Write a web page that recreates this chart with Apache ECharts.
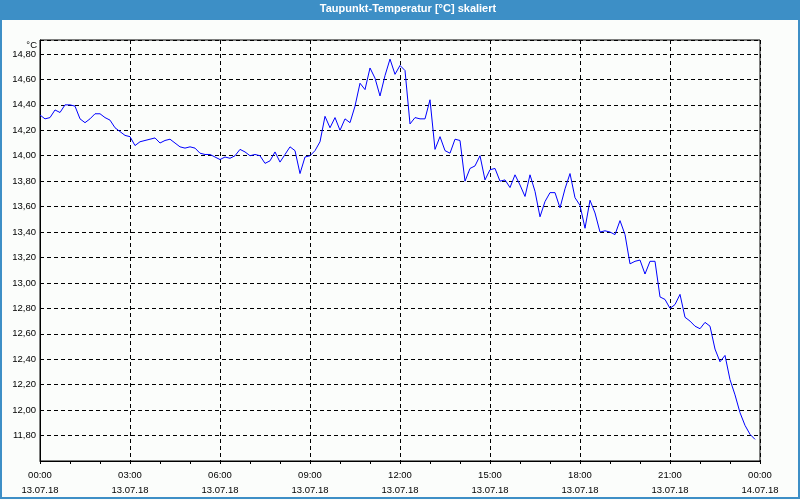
<!DOCTYPE html>
<html>
<head>
<meta charset="utf-8">
<script src="https://cdn.jsdelivr.net/npm/echarts@6/dist/echarts.min.js"></script>
<style>
html,body{margin:0;padding:0;background:#fbfdfb;}
#chart{width:800px;height:500px;}
</style>
</head>
<body>
<div id="chart"></div>
<script>
// Title and axis texts
var chartTitle = 'Taupunkt-Temperatur [°C] skaliert';
var yUnit = '°C';
var startDate = '13.07.18';
var endDate = '14.07.18';

// Time categories: 10-minute steps from 13.07.18 00:00 to 14.07.18 00:00
var categories = [];
for (var i = 0; i <= 144; i++) {
  var h = Math.floor(i / 6) % 24, m = (i % 6) * 10;
  var d = i < 144 ? startDate : endDate;
  categories.push(d + ' ' + (h < 10 ? '0' : '') + h + ':' + (m < 10 ? '0' : '') + m);
}

// Dew point values (°C), one per 10 minutes
var values = [
  14.32, 14.29, 14.30, 14.36, 14.34, 14.40,  // 00:00
  14.40, 14.39, 14.29, 14.26, 14.29, 14.33,  // 01:00
  14.33, 14.30, 14.28, 14.22, 14.19, 14.16,  // 02:00
  14.15, 14.08, 14.11, 14.12, 14.13, 14.14,  // 03:00
  14.10, 14.12, 14.13, 14.10, 14.07, 14.06,  // 04:00
  14.07, 14.06, 14.02, 14.01, 14.01, 13.99,  // 05:00
  13.97, 13.99, 13.98, 14.00, 14.05, 14.03,  // 06:00
  14.00, 14.01, 14.00, 13.94, 13.96, 14.03,  // 07:00
  13.95, 14.01, 14.07, 14.04, 13.86, 13.99,  // 08:00
  14.00, 14.04, 14.11, 14.31, 14.22, 14.30,  // 09:00
  14.20, 14.29, 14.26, 14.39, 14.57, 14.52,  // 10:00
  14.69, 14.61, 14.47, 14.63, 14.76, 14.64,  // 11:00
  14.71, 14.67, 14.25, 14.30, 14.29, 14.29,  // 12:00
  14.44, 14.05, 14.15, 14.04, 14.02, 14.13,  // 13:00
  14.12, 13.80, 13.90, 13.92, 14.00, 13.81,  // 14:00
  13.89, 13.90, 13.80, 13.81, 13.75, 13.85,  // 15:00
  13.77, 13.68, 13.85, 13.72, 13.52, 13.64,  // 16:00
  13.71, 13.71, 13.59, 13.74, 13.86, 13.67,  // 17:00
  13.61, 13.43, 13.65, 13.55, 13.40, 13.41,  // 18:00
  13.40, 13.38, 13.49, 13.38, 13.15, 13.17,  // 19:00
  13.18, 13.07, 13.17, 13.17, 12.89, 12.87,  // 20:00
  12.80, 12.83, 12.91, 12.73, 12.70, 12.66,  // 21:00
  12.64, 12.69, 12.66, 12.48, 12.38, 12.43,  // 22:00
  12.24, 12.12, 11.98, 11.88, 11.81, 11.77   // 23:00
];

var yMin = 11.6, yMax = 14.91, yStep = 0.2;

var chart = echarts.init(document.getElementById('chart'), null, {renderer: 'canvas'});
var font = 'Liberation Sans, Arial, sans-serif';
chart.setOption({
  animation: false,
  backgroundColor: '#fbfdfb',
  grid: {left: 40, right: 40, top: 40, bottom: 39, show: true, borderColor: '#000', borderWidth: 1, backgroundColor: 'transparent'},
  graphic: [
    {type: 'rect', shape: {x: 0, y: 0, width: 800, height: 20}, style: {fill: '#3d8fc6'}, silent: true},
    {type: 'rect', shape: {x: 1, y: 1, width: 798, height: 497}, style: {fill: null, stroke: '#3d8fc6', lineWidth: 2}, silent: true},
    {type: 'text', x: 408, y: 9, style: {text: chartTitle, fill: '#fff', font: 'bold 11px Liberation Sans, Arial, sans-serif', align: 'center', verticalAlign: 'middle'}, silent: true},
    {type: 'text', x: 37, y: 45, style: {text: yUnit, fill: '#000', font: '9.5px Liberation Sans, Arial, sans-serif', align: 'right', verticalAlign: 'middle'}, silent: true}
  ],
  xAxis: {
    type: 'category',
    data: categories,
    boundaryGap: false,
    axisLine: {lineStyle: {color: '#000', width: 1}},
    axisTick: {show: true, interval: 5, length: 3, inside: false, lineStyle: {color: '#000'}},
    axisLabel: {
      interval: 17, margin: 7, color: '#000', fontFamily: font, fontSize: 9.5, lineHeight: 15,
      formatter: function (v) { var p = v.split(' '); return p[1] + '\n' + p[0]; }
    },
    splitLine: {show: true, interval: 17, lineStyle: {color: '#000', width: 1, type: [4, 3]}}
  },
  yAxis: {
    type: 'value',
    min: yMin, max: yMax, interval: yStep,
    axisLine: {show: true, lineStyle: {color: '#000', width: 1}},
    axisTick: {show: false},
    axisLabel: {
      showMinLabel: false, showMaxLabel: false, margin: 4, color: '#000', fontFamily: font, fontSize: 9.5,
      formatter: function (v) { return v.toFixed(2).replace('.', ','); }
    },
    splitLine: {show: true, lineStyle: {color: '#000', width: 1, type: [4, 3]}}
  },
  series: [{
    type: 'line',
    data: values,
    showSymbol: false,
    symbol: 'none',
    lineStyle: {color: '#0000ff', width: 1},
    silent: true
  }]
});
</script>
</body>
</html>
